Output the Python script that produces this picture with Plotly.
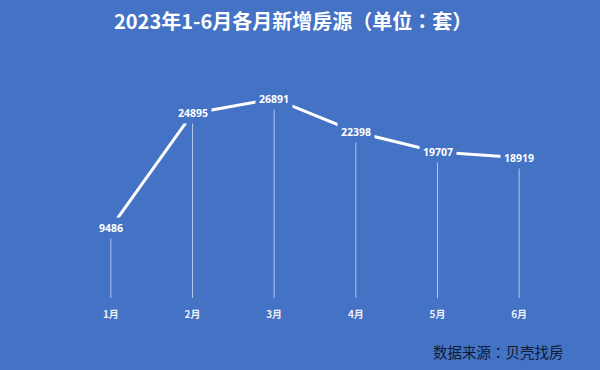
import plotly.graph_objects as go

months = ["1月", "2月", "3月", "4月", "5月", "6月"]
values = [9486, 24895, 26891, 22398, 19707, 18919]

title_text = "2023年1-6月各月新增房源（单位：套）"
source_text = "数据来源：贝壳找房"

BG = "#4472C4"
FONT = "Noto Sans CJK TC, Noto Sans CJK SC, Open Sans, sans-serif"

fig = go.Figure()

# drop lines from each point to the baseline
dx, dy = [], []
for m, v in zip(months, values):
    dx += [m, m, None]
    dy += [0, v, None]
fig.add_trace(go.Scatter(x=dx, y=dy, mode="lines",
                         line=dict(color="rgba(255,255,255,0.6)", width=1),
                         hoverinfo="skip", showlegend=False))

# main line
fig.add_trace(go.Scatter(x=months, y=values, mode="lines",
                         line=dict(color="white", width=3),
                         showlegend=False))

# value labels with background box that interrupts lines
for m, v in zip(months, values):
    fig.add_annotation(x=m, y=v, text=f"<b>{v}</b>", showarrow=False,
                       font=dict(color="white", size=10.5, family="Open Sans, sans-serif"),
                       bgcolor=BG, borderpad=3, xanchor="center", yanchor="middle")

fig.add_annotation(xref="paper", yref="paper", x=(293 - 70) / 490, y=1 + (60 - 21) / 238,
                   text=f"<b>{title_text}</b>", showarrow=False,
                   font=dict(color="white", size=20, family=FONT),
                   xanchor="center", yanchor="middle")

fig.add_annotation(xref="paper", yref="paper", x=(566 - 70) / 490, y=-(351 - 298) / 238,
                   text=source_text, showarrow=False,
                   font=dict(color="#0f1a33", size=14.5, family=FONT),
                   xanchor="right", yanchor="middle")

fig.update_layout(
    width=600, height=370,
    paper_bgcolor=BG, plot_bgcolor=BG,
    margin=dict(l=70, r=40, t=60, b=72),
    xaxis=dict(type="category", range=[-0.5, 5.5], showgrid=False, zeroline=False,
               showline=False, ticks="outside", ticklen=7, tickcolor="rgba(0,0,0,0)",
               tickprefix="<b>", ticksuffix="</b>",
               tickfont=dict(color="rgba(255,255,255,0.92)", size=10, family=FONT)),
    yaxis=dict(range=[0, 32110], showgrid=False, zeroline=False, showline=False,
               showticklabels=False, ticks=""),
)

fig.write_html("out.html", config={"displayModeBar": False},
               post_script="document.body.style.margin='0';")
